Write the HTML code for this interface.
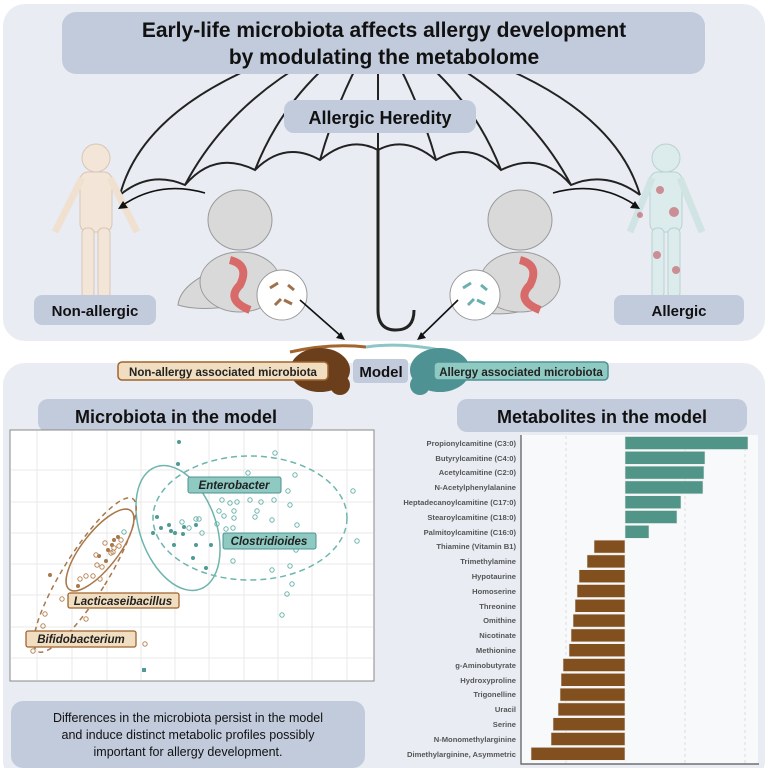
<!DOCTYPE html>
<html><head><meta charset="utf-8"><style>
html,body{margin:0;padding:0;background:#fff;}
svg{display:block;}
text{font-family:"Liberation Sans",sans-serif;}
</style></head><body>
<svg width="768" height="768" viewBox="0 0 768 768" xmlns="http://www.w3.org/2000/svg">
<rect x="0" y="0" width="768" height="768" fill="#fff"/>
<rect x="3" y="4" width="762" height="337" rx="22" fill="#e9edf3"/>
<rect x="3" y="363" width="762" height="420" rx="22" fill="#e9edf3"/>

<!-- umbrella -->
<g fill="none" stroke="#222" stroke-width="2">
<path d="M120,195 Q150,80 378,28 Q606,80 640,195"/>
<path d="M120,195 Q150,170 185,185 Q215,150 255,170 Q285,140 320,160 Q350,135 378,150 Q406,135 436,160 Q471,140 501,170 Q541,150 571,185 Q606,170 640,195"/>
<path d="M378,28 Q240,80 185,185"/><path d="M378,28 Q290,80 255,170"/><path d="M378,28 Q340,90 320,160"/>
<path d="M378,28 Q516,80 571,185"/><path d="M378,28 Q466,80 501,170"/><path d="M378,28 Q416,90 436,160"/>
<path d="M378,28 L378,150"/>
</g>
<path d="M378,150 L378,310 Q378,330 396,330 Q414,330 414,310" fill="none" stroke="#222" stroke-width="3"/>

<rect x="62" y="12" width="643" height="62" rx="14" fill="#c2cbdc"/>
<text x="384" y="37" text-anchor="middle" font-size="21" font-weight="bold" fill="#111">Early-life microbiota affects allergy development</text>
<text x="384" y="64" text-anchor="middle" font-size="21" font-weight="bold" fill="#111">by modulating the metabolome</text>
<rect x="284" y="100" width="192" height="33" rx="10" fill="#c2cbdc"/>
<text x="380" y="124" text-anchor="middle" font-size="18" font-weight="bold" fill="#111">Allergic Heredity</text>

<!-- persons -->
<g fill="#f3e6d8" stroke="#d8c6b4">
<circle cx="96" cy="158" r="14"/><rect x="80" y="172" width="32" height="60" rx="8"/>
<path d="M82,178 L55,232 M110,178 L137,232" stroke-width="7" stroke="#f0e0d0"/>
<rect x="82" y="228" width="12" height="70" rx="5"/><rect x="98" y="228" width="12" height="70" rx="5"/>
</g>
<g fill="#dcecec" stroke="#b8d2d2">
<circle cx="666" cy="158" r="14"/><rect x="650" y="172" width="32" height="60" rx="8"/>
<path d="M652,178 L630,232 M680,178 L702,232" stroke-width="7" stroke="#d0e4e4"/>
<rect x="652" y="228" width="12" height="70" rx="5"/><rect x="668" y="228" width="12" height="70" rx="5"/>
</g>
<g fill="#c0505a" opacity="0.6"><circle cx="660" cy="190" r="4"/><circle cx="674" cy="212" r="5"/><circle cx="657" cy="255" r="4"/><circle cx="640" cy="215" r="3"/><circle cx="676" cy="270" r="4"/></g>
<!-- babies -->
<g fill="#d9d9d9" stroke="#999">
<path d="M215,270 Q180,285 178,305 Q200,312 240,305 Z"/>
<path d="M495,270 Q470,290 480,312 Q510,318 540,305 Z"/>
<ellipse cx="240" cy="220" rx="32" ry="30"/><ellipse cx="240" cy="282" rx="40" ry="30"/>
<ellipse cx="520" cy="220" rx="32" ry="30"/><ellipse cx="520" cy="282" rx="40" ry="30"/>
</g>
<path d="M230,260 q20,5 10,25 q-15,15 10,25" stroke="#d96a6a" stroke-width="8" fill="none"/>
<path d="M520,260 q20,5 10,25 q-15,15 10,25" stroke="#d96a6a" stroke-width="8" fill="none"/>
<circle cx="282" cy="295" r="25" fill="#fff" stroke="#999"/>
<g stroke="#a0704a" stroke-width="3"><path d="M270,288 l8,-5 M284,300 l8,4 M275,305 l6,-6 M288,285 l6,5"/></g>
<circle cx="475" cy="295" r="25" fill="#fff" stroke="#999"/>
<g stroke="#6ab0b0" stroke-width="3"><path d="M463,288 l8,-5 M477,300 l8,4 M468,305 l6,-6 M481,285 l6,5"/></g>
<!-- arrows -->
<g fill="none" stroke="#111" stroke-width="1.6">
<path d="M205,193 Q160,180 123,205"/><path d="M553,193 Q598,180 635,205"/>
<path d="M300,300 L342,337"/><path d="M458,300 L420,337"/>
</g>
<g fill="#111"><path d="M118,209 l10,-1 l-5,-7z"/><path d="M640,209 l-10,-1 l5,-7z"/><path d="M345,340 l-9,-2 l5,-6z"/><path d="M417,340 l9,-2 l-5,-6z"/></g>

<rect x="34" y="295" width="122" height="30" rx="8" fill="#c2cbdc"/>
<text x="95" y="316" text-anchor="middle" font-size="15" font-weight="bold" fill="#111">Non-allergic</text>
<rect x="614" y="295" width="130" height="30" rx="8" fill="#c2cbdc"/>
<text x="679" y="316" text-anchor="middle" font-size="15" font-weight="bold" fill="#111">Allergic</text>

<!-- mice -->
<path d="M290,352 Q330,343 366,347" stroke="#a3642e" stroke-width="3" fill="none"/>
<path d="M366,347 Q400,342 440,350" stroke="#8cc6c6" stroke-width="3" fill="none"/>
<ellipse cx="320" cy="370" rx="30" ry="22" fill="#6b3f1c"/><circle cx="340" cy="385" r="10" fill="#6b3f1c"/>
<ellipse cx="440" cy="370" rx="30" ry="22" fill="#4e9293"/><circle cx="420" cy="385" r="10" fill="#4e9293"/>
<rect x="118" y="362" width="210" height="18" rx="4" fill="#f1ddbf" stroke="#a0642e" stroke-width="1.5"/>
<text x="223" y="376" text-anchor="middle" font-size="11.5" font-weight="bold" fill="#222">Non-allergy associated microbiota</text>
<rect x="353" y="359" width="55" height="24" rx="4" fill="#c2cbdc"/>
<text x="381" y="377" text-anchor="middle" font-size="15" font-weight="bold" fill="#111">Model</text>
<rect x="434" y="362" width="174" height="18" rx="4" fill="#8ec9c2" stroke="#4e9293" stroke-width="1.5"/>
<text x="521" y="376" text-anchor="middle" font-size="11.5" font-weight="bold" fill="#222">Allergy associated microbiota</text>

<rect x="38" y="399" width="275" height="33" rx="10" fill="#c2cbdc"/>
<text x="176" y="423" text-anchor="middle" font-size="18" font-weight="bold" fill="#111">Microbiota in the model</text>
<rect x="457" y="399" width="290" height="33" rx="10" fill="#c2cbdc"/>
<text x="602" y="423" text-anchor="middle" font-size="18" font-weight="bold" fill="#111">Metabolites in the model</text>

<!-- scatter -->
<rect x="10" y="430" width="364" height="251" fill="#fff" stroke="#888"/>
<g stroke="#e8e8e8" stroke-width="1">
<path d="M37,431V680M72,431V680M107,431V680M141,431V680M175,431V680M209,431V680M244,431V680M278,431V680M312,431V680M347,431V680"/>
<path d="M11,470H373M11,502H373M11,533H373M11,564H373M11,595H373M11,627H373M11,658H373"/>
</g>
<g fill="none" stroke="#6db5ad" stroke-width="1.5">
<ellipse cx="178" cy="528" rx="38" ry="65" transform="rotate(-20 178 528)"/>
<ellipse cx="250" cy="518" rx="97" ry="62" stroke-dasharray="6,4"/>
</g>
<g fill="none" stroke="#a8784a" stroke-width="1.5">
<ellipse cx="100" cy="550" rx="18" ry="50" transform="rotate(38 100 550)"/>
<ellipse cx="85" cy="575" rx="22" ry="90" transform="rotate(32 85 575)" stroke-dasharray="5,4"/>
</g>
<g fill="#4e9a94">
<circle cx="179" cy="442" r="2"/><circle cx="178" cy="464" r="2"/><circle cx="157" cy="517" r="2"/><circle cx="161" cy="528" r="2"/><circle cx="169" cy="525" r="2"/><circle cx="171" cy="531" r="2"/><circle cx="175" cy="533" r="2"/><circle cx="183" cy="534" r="2"/><circle cx="184" cy="527" r="2"/><circle cx="196" cy="525" r="2"/><circle cx="153" cy="533" r="2"/><circle cx="174" cy="545" r="2"/><circle cx="196" cy="545" r="2"/><circle cx="211" cy="545" r="2"/><circle cx="193" cy="558" r="2"/><circle cx="206" cy="568" r="2"/><rect x="142" y="668" width="4" height="4"/>
</g>
<g fill="none" stroke="#6db5ad" stroke-width="1">
<circle cx="275" cy="453" r="2.2"/><circle cx="248" cy="473" r="2.2"/><circle cx="295" cy="475" r="2.2"/><circle cx="288" cy="491" r="2.2"/><circle cx="353" cy="491" r="2.2"/><circle cx="222" cy="500" r="2.2"/><circle cx="230" cy="503" r="2.2"/><circle cx="237" cy="502" r="2.2"/><circle cx="250" cy="500" r="2.2"/><circle cx="261" cy="502" r="2.2"/><circle cx="274" cy="500" r="2.2"/><circle cx="290" cy="505" r="2.2"/><circle cx="219" cy="511" r="2.2"/><circle cx="234" cy="511" r="2.2"/><circle cx="257" cy="511" r="2.2"/><circle cx="224" cy="516" r="2.2"/><circle cx="234" cy="518" r="2.2"/><circle cx="255" cy="517" r="2.2"/><circle cx="182" cy="522" r="2.2"/><circle cx="196" cy="519" r="2.2"/><circle cx="199" cy="519" r="2.2"/><circle cx="217" cy="524" r="2.2"/><circle cx="233" cy="528" r="2.2"/><circle cx="272" cy="520" r="2.2"/><circle cx="297" cy="525" r="2.2"/><circle cx="189" cy="528" r="2.2"/><circle cx="202" cy="533" r="2.2"/><circle cx="226" cy="529" r="2.2"/><circle cx="357" cy="541" r="2.2"/><circle cx="296" cy="550" r="2.2"/><circle cx="233" cy="561" r="2.2"/><circle cx="272" cy="570" r="2.2"/><circle cx="290" cy="566" r="2.2"/><circle cx="292" cy="584" r="2.2"/><circle cx="287" cy="594" r="2.2"/><circle cx="282" cy="615" r="2.2"/><circle cx="124" cy="532" r="2.2"/>
</g>
<g fill="#a8784a">
<circle cx="50" cy="575" r="2"/><circle cx="78" cy="586" r="2"/><circle cx="99" cy="556" r="2"/><circle cx="108" cy="550" r="2"/><circle cx="106" cy="561" r="2"/><circle cx="114" cy="540" r="2"/><circle cx="118" cy="537" r="2"/><circle cx="112" cy="545" r="2"/>
</g>
<g fill="none" stroke="#b8875a" stroke-width="1">
<circle cx="80" cy="579" r="2.2"/><circle cx="86" cy="576" r="2.2"/><circle cx="93" cy="576" r="2.2"/><circle cx="100" cy="579" r="2.2"/><circle cx="97" cy="565" r="2.2"/><circle cx="102" cy="567" r="2.2"/><circle cx="96" cy="555" r="2.2"/><circle cx="111" cy="553" r="2.2"/><circle cx="113" cy="552" r="2.2"/><circle cx="105" cy="543" r="2.2"/><circle cx="114" cy="548" r="2.2"/><circle cx="119" cy="546" r="2.2"/><circle cx="121" cy="540" r="2.2"/><circle cx="62" cy="599" r="2.2"/><circle cx="45" cy="614" r="2.2"/><circle cx="43" cy="626" r="2.2"/><circle cx="86" cy="619" r="2.2"/><circle cx="145" cy="644" r="2.2"/><circle cx="33" cy="651" r="2.2"/>
</g>
<rect x="188" y="477" width="93" height="16" rx="2" fill="#8ec9c2" stroke="#4e9293"/>
<text x="234" y="489" text-anchor="middle" font-size="11.5" font-weight="bold" font-style="italic" fill="#222">Enterobacter</text>
<rect x="223" y="533" width="93" height="16" rx="2" fill="#8ec9c2" stroke="#4e9293"/>
<text x="269" y="545" text-anchor="middle" font-size="11.5" font-weight="bold" font-style="italic" fill="#222">Clostridioides</text>
<rect x="68" y="593" width="111" height="15" rx="2" fill="#f1ddbf" stroke="#a0642e" stroke-width="1.3"/>
<text x="123" y="605" text-anchor="middle" font-size="11.5" font-weight="bold" font-style="italic" fill="#222">Lacticaseibacillus</text>
<rect x="26" y="631" width="110" height="16" rx="2" fill="#f1ddbf" stroke="#a0642e" stroke-width="1.3"/>
<text x="81" y="643" text-anchor="middle" font-size="11.5" font-weight="bold" font-style="italic" fill="#222">Bifidobacterium</text>

<rect x="11" y="701" width="354" height="67" rx="12" fill="#c2cbdc"/>
<text x="188" y="722" text-anchor="middle" font-size="12.5" fill="#111">Differences in the microbiota persist in the model</text>
<text x="188" y="739" text-anchor="middle" font-size="12.5" fill="#111">and induce distinct metabolic profiles possibly</text>
<text x="188" y="756" text-anchor="middle" font-size="12.5" fill="#111">important for allergy development.</text>

<!-- bar chart -->
<rect x="521" y="435" width="237" height="329" fill="#f8f9fb"/>
<g stroke="#ddd" stroke-dasharray="3,3"><path d="M566,436V763M685,436V763M745,436V763"/></g>
<path d="M521,435V764H759" stroke="#555" stroke-width="1.2" fill="none"/>
<g fill="#519488" stroke="#eee" stroke-width="0.6">
<rect x="625" y="436.5" width="123" height="13"/>
<rect x="625" y="451.3" width="80" height="13"/>
<rect x="625" y="466.1" width="79" height="13"/>
<rect x="625" y="480.9" width="78" height="13"/>
<rect x="625" y="495.7" width="56" height="13"/>
<rect x="625" y="510.5" width="52" height="13"/>
<rect x="625" y="525.3" width="24" height="13"/>
</g>
<g fill="#82501f" stroke="#eee" stroke-width="0.6">
<rect x="594" y="540.1" width="31" height="13"/>
<rect x="587" y="554.9" width="38" height="13"/>
<rect x="579" y="569.7" width="46" height="13"/>
<rect x="577" y="584.5" width="48" height="13"/>
<rect x="575" y="599.3" width="50" height="13"/>
<rect x="573" y="614.1" width="52" height="13"/>
<rect x="571" y="628.9" width="54" height="13"/>
<rect x="569" y="643.7" width="56" height="13"/>
<rect x="563" y="658.5" width="62" height="13"/>
<rect x="561" y="673.3" width="64" height="13"/>
<rect x="560" y="688.1" width="65" height="13"/>
<rect x="558" y="702.9" width="67" height="13"/>
<rect x="553" y="717.7" width="72" height="13"/>
<rect x="551" y="732.5" width="74" height="13"/>
<rect x="531" y="747.3" width="94" height="13"/>
</g>
<g font-size="7.6" font-weight="bold" fill="#555" text-anchor="end">
<text x="516" y="446">Propionylcamitine (C3:0)</text>
<text x="516" y="461">Butyrylcamitine (C4:0)</text>
<text x="516" y="475">Acetylcamitine (C2:0)</text>
<text x="516" y="490">N-Acetylphenylalanine</text>
<text x="516" y="505">Heptadecanoylcamitine (C17:0)</text>
<text x="516" y="520">Stearoylcamitine (C18:0)</text>
<text x="516" y="535">Palmitoylcamitine (C16:0)</text>
<text x="516" y="549">Thiamine (Vitamin B1)</text>
<text x="516" y="564">Trimethylamine</text>
<text x="516" y="579">Hypotaurine</text>
<text x="516" y="594">Homoserine</text>
<text x="516" y="609">Threonine</text>
<text x="516" y="623">Omithine</text>
<text x="516" y="638">Nicotinate</text>
<text x="516" y="653">Methionine</text>
<text x="516" y="668">g-Aminobutyrate</text>
<text x="516" y="683">Hydroxyproline</text>
<text x="516" y="697">Trigonelline</text>
<text x="516" y="712">Uracil</text>
<text x="516" y="727">Serine</text>
<text x="516" y="742">N-Monomethylarginine</text>
<text x="516" y="757">Dimethylarginine, Asymmetric</text>
</g>
</svg>
</body></html>
